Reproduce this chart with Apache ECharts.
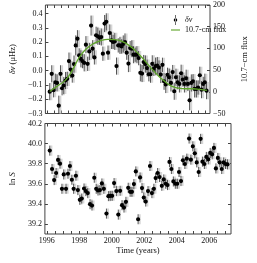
<!DOCTYPE html>
<html><head><meta charset="utf-8">
<script src="https://cdn.jsdelivr.net/npm/echarts@6/dist/echarts.min.js"></script>
<style>html,body{margin:0;padding:0;background:#fff}#c{width:257px;height:263px}</style>
</head><body><div id="c"></div>
<script>
// ---- data ----
const yearsTop = [1996.18,1996.32,1996.45,1996.57,1996.69,1996.81,1996.93,1997.04,1997.16,1997.28,
 1997.40,1997.52,1997.64,1997.75,1997.87,1997.99,1998.11,1998.23,1998.35,1998.46,
 1998.58,1998.70,1998.82,1998.94,1999.06,1999.17,1999.29,1999.41,1999.53,1999.65,
 1999.77,1999.88,2000.00,2000.12,2000.24,2000.36,2000.48,2000.59,2000.71,2000.83,
 2000.95,2001.07,2001.19,2001.30,2001.42,2001.54,2001.66,2001.78,2001.90,2002.01,
 2002.13,2002.25,2002.37,2002.49,2002.61,2002.72,2002.84,2002.96,2003.08,2003.20,
 2003.32,2003.43,2003.55,2003.67,2003.79,2003.91,2004.03,2004.14,2004.26,2004.38,
 2004.50,2004.62,2004.74,2004.85,2004.97,2005.09,2005.21,2005.33,2005.45,2005.56,
 2005.68,2005.80,2005.92,2006.04,2006.16,2006.27,2006.39,2006.51,2006.63,2006.75,
 2006.87,2006.98,2007.10];
const dnu = [-0.147,-0.022,-0.137,-0.081,-0.086,-0.245,-0.022,-0.123,-0.104,-0.069,
 -0.057,0.067,0.008,-0.034,0.046,0.177,0.224,0.107,0.083,0.067,
 0.055,0.182,0.048,0.135,0.316,0.154,0.093,0.248,0.241,0.231,
 0.236,0.119,0.330,0.342,0.126,0.264,0.212,0.201,0.205,0.032,
 0.177,0.177,0.170,0.187,0.201,0.126,0.050,0.158,0.154,0.112,
 0.112,0.112,0.088,-0.015,-0.020,0.060,0.046,0.018,-0.025,-0.025,
 0.048,0.013,0.032,0.036,0.022,-0.027,0.041,-0.074,-0.097,-0.029,
 -0.046,-0.086,-0.010,-0.144,-0.046,-0.081,-0.093,-0.018,-0.062,-0.093,
 -0.053,-0.093,-0.208,-0.086,-0.074,-0.128,-0.128,-0.118,-0.032,-0.133,
 -0.093,-0.081,-0.140];
const dnuErr = [0.06,0.06,0.05,0.06,0.06,0.07,0.06,0.05,0.06,0.06,
 0.05,0.06,0.06,0.05,0.06,0.07,0.06,0.05,0.06,0.05,
 0.06,0.06,0.05,0.06,0.07,0.06,0.05,0.06,0.06,0.05,
 0.06,0.05,0.06,0.06,0.05,0.06,0.06,0.05,0.06,0.06,
 0.05,0.06,0.05,0.06,0.06,0.05,0.06,0.05,0.06,0.06,
 0.05,0.06,0.05,0.06,0.06,0.05,0.06,0.06,0.05,0.06,
 0.06,0.05,0.06,0.06,0.05,0.06,0.05,0.06,0.06,0.05,
 0.06,0.06,0.05,0.06,0.06,0.05,0.06,0.06,0.05,0.06,
 0.06,0.05,0.07,0.06,0.05,0.06,0.06,0.05,0.06,0.06,
 0.05,0.06,0.06];
const fluxYears = [1996.18,1996.77,1997.26,1997.75,1998.25,1998.74,1999.23,1999.73,2000.22,2000.71,
 2001.20,2001.70,2002.19,2002.68,2003.18,2003.67,2004.16,2004.66,2005.15,2005.64,
 2006.14,2006.63,2007.12];
const flux = [0.9,14.7,26.2,49.3,80.1,99.3,110.9,117.8,120.9,120.1,
 116.2,107.0,93.2,76.2,57.0,39.3,24.7,13.2,8.5,7.0,
 7.0,5.5,3.2];
const yearsBottom = [1996.18,1996.32,1996.45,1996.57,1996.69,1996.81,1996.93,1997.04,1997.18,1997.30,
 1997.42,1997.54,1997.65,1997.79,1997.91,1998.03,1998.15,1998.29,1998.40,1998.52,
 1998.66,1998.78,1998.92,1999.04,1999.15,1999.27,1999.39,1999.51,1999.67,1999.79,
 1999.90,2000.02,2000.14,2000.28,2000.40,2000.51,2000.63,2000.75,2000.87,2001.01,
 2001.13,2001.24,2001.36,2001.48,2001.62,2001.74,2001.86,2001.97,2002.09,2002.23,
 2002.35,2002.47,2002.59,2002.70,2002.82,2002.94,2003.08,2003.20,2003.32,2003.43,
 2003.55,2003.67,2003.79,2003.91,2004.03,2004.14,2004.26,2004.38,2004.50,2004.62,
 2004.76,2004.87,2004.99,2005.11,2005.23,2005.35,2005.47,2005.58,2005.70,2005.82,
 2005.94,2006.06,2006.18,2006.29,2006.41,2006.53,2006.65,2006.77,2006.89,2007.00,
 2007.12];
const lnS = [39.930,39.747,39.637,39.707,39.837,39.800,39.550,39.693,39.550,39.700,
 39.777,39.640,39.550,39.680,39.537,39.440,39.453,39.553,39.527,39.507,
 39.397,39.383,39.660,39.550,39.533,39.537,39.603,39.550,39.303,39.477,
 39.480,39.480,39.607,39.527,39.293,39.530,39.387,39.363,39.420,39.560,
 39.520,39.520,39.597,39.723,39.247,39.663,39.557,39.463,39.423,39.527,
 39.777,39.507,39.550,39.657,39.707,39.667,39.580,39.643,39.600,39.587,
 39.817,39.747,39.623,39.600,39.600,39.717,39.627,39.833,39.797,39.850,
 40.050,39.840,39.973,39.903,39.813,39.717,40.047,39.820,39.797,39.867,
 39.843,39.907,39.893,39.957,39.753,39.857,39.813,39.747,39.813,39.797,
 39.793];
const lnSErr = [0.05,0.05,0.05,0.05,0.05,0.05,0.05,0.05,0.05,0.05,
 0.05,0.05,0.05,0.05,0.05,0.05,0.05,0.05,0.05,0.05,
 0.05,0.05,0.05,0.05,0.05,0.05,0.05,0.05,0.05,0.05,
 0.05,0.05,0.05,0.05,0.05,0.05,0.05,0.05,0.05,0.05,
 0.05,0.05,0.05,0.05,0.05,0.05,0.05,0.05,0.05,0.05,
 0.05,0.05,0.05,0.05,0.05,0.05,0.05,0.05,0.05,0.05,
 0.05,0.05,0.05,0.05,0.05,0.05,0.05,0.05,0.05,0.05,
 0.05,0.05,0.05,0.05,0.05,0.05,0.05,0.05,0.05,0.05,
 0.05,0.05,0.05,0.05,0.05,0.05,0.05,0.05,0.05,0.05,
 0.05];
const xLabelYears = [1996,1998,2000,2002,2004,2006];
const xTickYears = [1996,1996.5,1997,1997.5,1998,1998.5,1999,1999.5,2000,2000.5,2001,2001.5,
 2002,2002.5,2003,2003.5,2004,2004.5,2005,2005.5,2006,2006.5,2007];
const lnSTicks = [39.2,39.4,39.6,39.8,40.0,40.2];

// ---- chart ----
const FONT = 'Liberation Serif';
const AX = '#444';
const GREEN = '#5fa52a';
const chart = echarts.init(document.getElementById('c'), null, {renderer: 'canvas'});
const fmt = v => v.toFixed(1).replace('-', '\u2212');
const fmtInt = v => String(v).replace('-', '\u2212');

function xAxis(grid, pos, showLabels, name) {
  return {
    type: 'value', gridIndex: grid, position: pos, min: 1995.88, max: 2007.34,
    axisLine: {show: false, onZero: false}, splitLine: {show: false},
    axisTick: {inside: true, length: 3, customValues: xTickYears, lineStyle: {color: AX}},
    axisLabel: {show: showLabels, customValues: xLabelYears, margin: 3, color: '#111',
      fontFamily: FONT, fontSize: 8, formatter: v => String(v)},
    name: name || '', nameLocation: 'middle', nameGap: 10,
    nameTextStyle: {fontFamily: FONT, fontSize: 8.5, color: '#111'}
  };
}

function errSeries(name, xs, ys, es, xi, yi) {
  return {
    type: 'custom', name: name, xAxisIndex: xi, yAxisIndex: yi, clip: true, z: 4,
    data: xs.map((x, i) => [x, ys[i], es[i]]),
    renderItem: (params, api) => {
      const x = api.value(0), y = api.value(1), e = api.value(2);
      const p = api.coord([x, y]);
      const hi = api.coord([x, y + e]);
      const lo = api.coord([x, y - e]);
      return {type: 'group', children: [
        {type: 'rect', shape: {x: p[0] + 0.6, y: hi[1], width: 2, height: lo[1] - hi[1]},
          style: {fill: '#d6d6d6'}},
        {type: 'line', shape: {x1: p[0], y1: hi[1], x2: p[0], y2: lo[1]},
          style: {stroke: '#2a2a2a', lineWidth: 0.8}},
        {type: 'circle', shape: {cx: p[0], cy: p[1], r: 2.1}, style: {fill: '#000'}}
      ]};
    }
  };
}

const option = {
  animation: false,
  backgroundColor: '#fff',
  grid: [
    {left: 38, right: 26, top: 5, height: 108.5, show: true, borderColor: AX, borderWidth: 1},
    {left: 38, right: 26, top: 123.5, height: 110.5, show: true, borderColor: AX, borderWidth: 1}
  ],
  legend: {
    orient: 'vertical', left: 166, top: 10, itemWidth: 9, itemHeight: 10, itemGap: 1,
    textStyle: {fontFamily: FONT, fontSize: 8, color: '#111'},
    data: [
      {name: 'δν', icon: 'path://M2.6,0h0.8v14h-0.8z M0.5,7a2.5,2.5 0 1,0 5,0a2.5,2.5 0 1,0 -5,0z',
        itemStyle: {color: '#000'}, textStyle: {fontStyle: 'italic'}},
      {name: '10.7-cm flux', icon: 'path://M0,0h12v1.5h-12z', itemStyle: {color: GREEN}}
    ]
  },
  xAxis: [
    xAxis(0, 'bottom', false),
    xAxis(0, 'top', false),
    xAxis(1, 'bottom', true, 'Time (years)'),
    xAxis(1, 'top', false)
  ],
  yAxis: [
    {type: 'value', gridIndex: 0, position: 'left', min: -0.3, max: 0.46, interval: 0.1,
      axisLine: {show: false, onZero: false}, splitLine: {show: false},
      axisTick: {inside: true, length: 3, lineStyle: {color: AX}},
      axisLabel: {margin: 3, showMaxLabel: false, color: '#111', fontFamily: FONT, fontSize: 8, formatter: fmt},
      name: '{i|δν} (μHz)', nameLocation: 'middle', nameGap: 26, nameRotate: 90,
      nameTextStyle: {fontFamily: FONT, fontSize: 8.5, color: '#111', rich: {i: {fontStyle: 'italic', fontFamily: FONT, fontSize: 8.5}}}},
    {type: 'value', gridIndex: 0, position: 'right', min: -50, max: 200, interval: 50,
      axisLine: {show: false, onZero: false}, splitLine: {show: false},
      axisTick: {inside: true, length: 3, lineStyle: {color: AX}},
      axisLabel: {margin: 3, color: '#111', fontFamily: FONT, fontSize: 8, formatter: fmtInt},
      name: '10.7\u2212cm flux', nameLocation: 'middle', nameGap: 30, nameRotate: 90,
      nameTextStyle: {fontFamily: FONT, fontSize: 8.5, color: '#111'}},
    {type: 'value', gridIndex: 1, position: 'left', min: 39.1, max: 40.2,
      axisLine: {show: false, onZero: false}, splitLine: {show: false},
      axisTick: {inside: true, length: 3, customValues: lnSTicks, lineStyle: {color: AX}},
      axisLabel: {margin: 3, customValues: lnSTicks, color: '#111', fontFamily: FONT, fontSize: 8, formatter: fmt},
      name: 'ln {i|S}', nameLocation: 'middle', nameGap: 26, nameRotate: 90,
      nameTextStyle: {fontFamily: FONT, fontSize: 8.5, color: '#111', rich: {i: {fontStyle: 'italic', fontFamily: FONT, fontSize: 8.5}}}},
    {type: 'value', gridIndex: 1, position: 'right', min: 39.1, max: 40.2,
      axisLine: {show: false, onZero: false}, splitLine: {show: false},
      axisTick: {inside: true, length: 3, customValues: lnSTicks, lineStyle: {color: AX}},
      axisLabel: {show: false}}
  ],
  series: [
    {type: 'line', name: '10.7-cm flux', xAxisIndex: 0, yAxisIndex: 1, smooth: true,
      symbol: 'none', showSymbol: false, z: 5, lineStyle: {color: GREEN, width: 1.3}, itemStyle: {color: GREEN},
      data: fluxYears.map((x, i) => [x, flux[i]])},
    errSeries('δν', yearsTop, dnu, dnuErr, 0, 0),
    errSeries('lnS', yearsBottom, lnS, lnSErr, 2, 2)
  ]
};
chart.setOption(option);
</script>
</body></html>
